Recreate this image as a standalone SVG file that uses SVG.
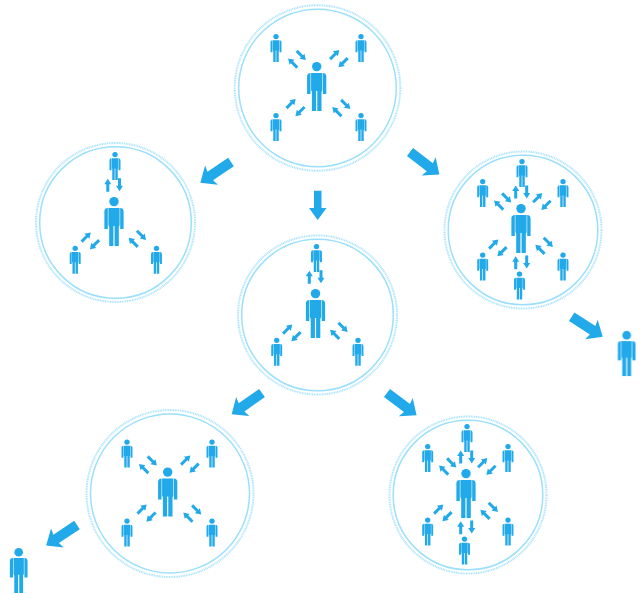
<svg xmlns="http://www.w3.org/2000/svg" width="640" height="594" viewBox="0 0 640 594">
<style>
.ink{fill:#20a9ea}
.dots{fill:none;stroke:#a9e3fb;stroke-width:2;stroke-dasharray:1 .7}
.solid{fill:none;stroke:#9be0fb;stroke-width:1.5}
</style>
<defs>
<filter id="soft" filterUnits="userSpaceOnUse" x="0" y="0" width="640" height="594"><feGaussianBlur stdDeviation="0.62"/></filter>
<g id="person"><circle cx="0" cy="4.600" r="4.700"/><path d="M-5.600,11H5.600V28L4.800,30V49H.6V29H-.6V49H-4.800V30L-5.600,28Z"/><path d="M-6.200,11Q-9.600,11-9.600,14.500V32H-6.200Z"/><path d="M6.200,11Q9.600,11 9.600,14.500V32H6.200Z"/></g>
<use id="mini" href="#person" transform="scale(.57)"/>
<path id="tick" d="M-1.500,6.500V-1H-3.500L0,-6.500L3.500,-1H1.500V6.500Z"/>
<path id="bigarrow" d="M0,-5H25L23.500,-11.500L37,0L23.500,11.500L25,5H0Z"/>
<g id="four" class="ink">
<use href="#person" x="-1.800" y="-26"/>
<use href="#mini" transform="translate(-42.500,-54)"/><use href="#mini" transform="translate(42.500,-54)"/><use href="#mini" transform="translate(-42.500,25)"/><use href="#mini" transform="translate(42.500,25)"/>
<use href="#tick" transform="translate(-25.800,-25) rotate(-45)"/><use href="#tick" transform="translate(-17.200,-32.500) rotate(135)"/>
<use href="#tick" transform="translate(16.200,-33.500) rotate(45)"/><use href="#tick" transform="translate(24.600,-25.300) rotate(225)"/>
<use href="#tick" transform="translate(-27.400,15.500) rotate(45)"/><use href="#tick" transform="translate(-18.500,23.600) rotate(225)"/>
<use href="#tick" transform="translate(18.400,23.600) rotate(-45)"/><use href="#tick" transform="translate(27.200,16.500) rotate(135)"/>
</g>
<g id="six" class="ink">
<use href="#person" x="-2" y="-26"/>
<use href="#mini" transform="translate(-40.300,-51)"/><use href="#mini" transform="translate(40,-51)"/><use href="#mini" transform="translate(-1,-71)"/>
<use href="#mini" transform="translate(-40.300,22.500)"/><use href="#mini" transform="translate(40,22.500)"/><use href="#mini" transform="translate(-3.500,41.500)"/>
<use href="#tick" transform="translate(-24.300,-25) rotate(-45)"/><use href="#tick" transform="translate(-16.300,-32) rotate(135)"/>
<use href="#tick" transform="translate(-7.300,-38)"/><use href="#tick" transform="translate(3.700,-38) rotate(180)"/>
<use href="#tick" transform="translate(14.700,-32.300) rotate(45)"/><use href="#tick" transform="translate(23,-24.700) rotate(225)"/>
<use href="#tick" transform="translate(-29.300,14) rotate(45)"/><use href="#tick" transform="translate(-21,21.700) rotate(225)"/>
<use href="#tick" transform="translate(-7.300,32.700)"/><use href="#tick" transform="translate(3.700,32) rotate(180)"/>
<use href="#tick" transform="translate(17,19.300) rotate(-45)"/><use href="#tick" transform="translate(25.300,12.300) rotate(135)"/>
</g>
<g id="three" class="ink">
<use href="#person" x="-2" y="-26"/>
<use href="#mini" transform="translate(-1,-71)"/><use href="#mini" transform="translate(-40.800,22.700)"/><use href="#mini" transform="translate(40.500,22.700)"/>
<use href="#tick" transform="translate(-8.200,-37.700)"/><use href="#tick" transform="translate(3.500,-38.300) rotate(180)"/>
<use href="#tick" transform="translate(-29.800,14) rotate(45)"/><use href="#tick" transform="translate(-21.500,21.700) rotate(225)"/>
<use href="#tick" transform="translate(17.200,19.300) rotate(-45)"/><use href="#tick" transform="translate(25.500,12.300) rotate(135)"/>
</g>
</defs>
<rect width="640" height="594" fill="#fff"/>
<g filter="url(#soft)">
<g id="connectors" class="ink">
<use href="#bigarrow" transform="translate(231,162) rotate(146)"/>
<path d="M314,190.700H321.500V208H326.500L317.700,220L309,208H314Z"/>
<use href="#bigarrow" transform="translate(410,152) rotate(37.500)"/>
<use href="#bigarrow" transform="translate(571.700,316.700) rotate(33)"/>
<use href="#bigarrow" transform="translate(262,393) rotate(145)"/>
<use href="#bigarrow" transform="translate(387,393) rotate(37)"/>
<use href="#bigarrow" transform="translate(77,525) rotate(146.500)"/>
</g>
<g id="node-top"><circle class="dots" cx="317.500" cy="88" r="82.800"/><circle class="solid" cx="317.500" cy="88" r="78.800"/><use href="#four" transform="translate(318.500,88)"/></g>
<g id="node-left"><circle class="dots" cx="115.500" cy="222.500" r="79.500"/><circle class="solid" cx="115.500" cy="222.500" r="75.800"/><use href="#three" transform="translate(116,223)"/></g>
<g id="node-right"><circle class="dots" cx="523" cy="230" r="78.500"/><circle class="solid" cx="523" cy="230" r="74.800"/><use href="#six" transform="translate(523,230)"/></g>
<g id="node-center"><circle class="dots" cx="317.500" cy="315" r="79.500"/><circle class="solid" cx="317.500" cy="315" r="75.800"/><use href="#three" transform="translate(317.500,315)"/></g>
<g id="node-bottom-left"><circle class="dots" cx="170" cy="493.500" r="83.500"/><circle class="solid" cx="170" cy="493.500" r="79.500"/><use href="#four" transform="translate(169.500,493.500)"/></g>
<g id="node-bottom-right"><circle class="dots" cx="468" cy="495" r="78.500"/><circle class="solid" cx="468" cy="495" r="74.800"/><use href="#six" transform="translate(468,495)"/></g>
<g id="person-right" class="ink"><use href="#person" transform="translate(626.700,331) scale(.92)"/></g>
<g id="person-bottom-left" class="ink"><use href="#person" transform="translate(18.700,548) scale(.92)"/></g>
</g>
</svg>
